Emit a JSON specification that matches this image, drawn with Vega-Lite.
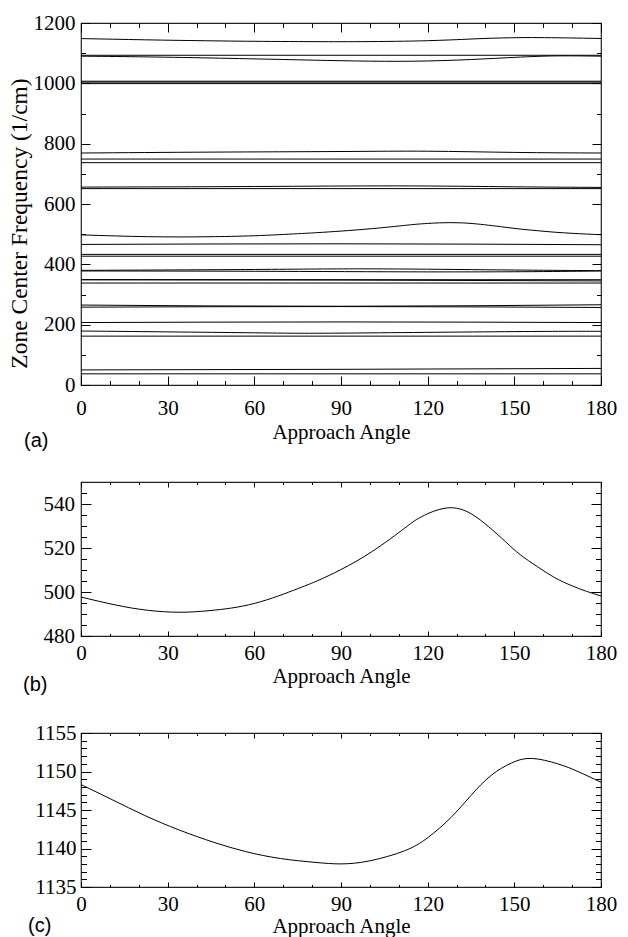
{
  "$schema": "https://vega.github.io/schema/vega-lite/v6.json",
  "padding": {"top": 11, "left": 6, "right": 8, "bottom": 0},
  "background": "white",
  "datasets": {
    "modes": [
      {"m":"m01","a":0,"f":1148.3},{"m":"m01","a":11,"f":1146.3},{"m":"m01","a":22,"f":1144.3},{"m":"m01","a":34,"f":1142.4},{"m":"m01","a":46,"f":1140.8},{"m":"m01","a":57,"f":1139.6},{"m":"m01","a":69,"f":1138.7},{"m":"m01","a":81,"f":1138.2},{"m":"m01","a":90,"f":1138.0},{"m":"m01","a":100,"f":1138.4},{"m":"m01","a":112,"f":1139.7},{"m":"m01","a":120,"f":1141.4},{"m":"m01","a":128,"f":1144.0},{"m":"m01","a":135,"f":1146.9},{"m":"m01","a":142,"f":1149.5},{"m":"m01","a":149,"f":1151.1},{"m":"m01","a":156,"f":1151.7},{"m":"m01","a":165,"f":1151.0},{"m":"m01","a":172,"f":1150.0},{"m":"m01","a":180,"f":1148.6},
      {"m":"m02","a":0,"f":1093},{"m":"m02","a":180,"f":1093},
      {"m":"m03","a":0,"f":1090},{"m":"m03","a":20,"f":1088},{"m":"m03","a":45,"f":1084},{"m":"m03","a":70,"f":1079},{"m":"m03","a":90,"f":1075},{"m":"m03","a":110,"f":1073},{"m":"m03","a":130,"f":1077},{"m":"m03","a":150,"f":1086},{"m":"m03","a":165,"f":1091},{"m":"m03","a":180,"f":1090},
      {"m":"m04","a":0,"f":1007},{"m":"m04","a":180,"f":1007},
      {"m":"m05","a":0,"f":1004},{"m":"m05","a":180,"f":1004},
      {"m":"m06","a":0,"f":999},{"m":"m06","a":180,"f":999},
      {"m":"m07","a":0,"f":769},{"m":"m07","a":45,"f":772},{"m":"m07","a":90,"f":774},{"m":"m07","a":120,"f":775},{"m":"m07","a":150,"f":771},{"m":"m07","a":180,"f":769},
      {"m":"m08","a":0,"f":749},{"m":"m08","a":180,"f":749},
      {"m":"m09","a":0,"f":737},{"m":"m09","a":180,"f":737},
      {"m":"m10","a":0,"f":656},{"m":"m10","a":60,"f":658},{"m":"m10","a":110,"f":660},{"m":"m10","a":150,"f":657},{"m":"m10","a":180,"f":655},
      {"m":"m11","a":0,"f":651},{"m":"m11","a":180,"f":651},
      {"m":"m12","a":0,"f":497.7},{"m":"m12","a":12,"f":494.1},{"m":"m12","a":23,"f":491.7},{"m":"m12","a":34,"f":490.8},{"m":"m12","a":45,"f":491.6},{"m":"m12","a":60,"f":494.8},{"m":"m12","a":75,"f":501.5},{"m":"m12","a":82,"f":505.2},{"m":"m12","a":90,"f":510.2},{"m":"m12","a":101,"f":518.6},{"m":"m12","a":112,"f":529.0},{"m":"m12","a":116,"f":532.8},{"m":"m12","a":120,"f":535.6},{"m":"m12","a":124,"f":537.5},{"m":"m12","a":128,"f":538.3},{"m":"m12","a":132,"f":537.4},{"m":"m12","a":136,"f":534.8},{"m":"m12","a":141,"f":529.8},{"m":"m12","a":147,"f":522.8},{"m":"m12","a":152,"f":517.0},{"m":"m12","a":158,"f":511.5},{"m":"m12","a":164,"f":506.5},{"m":"m12","a":170,"f":502.8},{"m":"m12","a":175,"f":500.3},{"m":"m12","a":180,"f":498.2},
      {"m":"m13","a":0,"f":466},{"m":"m13","a":90,"f":468},{"m":"m13","a":180,"f":465},
      {"m":"m14","a":0,"f":433},{"m":"m14","a":180,"f":433},
      {"m":"m15","a":0,"f":427},{"m":"m15","a":180,"f":427},
      {"m":"m16","a":0,"f":380},{"m":"m16","a":60,"f":383},{"m":"m16","a":100,"f":385},{"m":"m16","a":140,"f":382},{"m":"m16","a":180,"f":379},
      {"m":"m17","a":0,"f":378},{"m":"m17","a":60,"f":377},{"m":"m17","a":120,"f":375},{"m":"m17","a":160,"f":376},{"m":"m17","a":180,"f":378},
      {"m":"m18","a":0,"f":349},{"m":"m18","a":180,"f":349},
      {"m":"m19","a":0,"f":349},{"m":"m19","a":90,"f":348},{"m":"m19","a":180,"f":345},
      {"m":"m20","a":0,"f":338},{"m":"m20","a":180,"f":338},
      {"m":"m21","a":0,"f":265},{"m":"m21","a":90,"f":261},{"m":"m21","a":180,"f":266},
      {"m":"m22","a":0,"f":258},{"m":"m22","a":90,"f":260},{"m":"m22","a":180,"f":257},
      {"m":"m23","a":0,"f":207},{"m":"m23","a":90,"f":209},{"m":"m23","a":180,"f":207},
      {"m":"m24","a":0,"f":179},{"m":"m24","a":60,"f":173},{"m":"m24","a":90,"f":172},{"m":"m24","a":150,"f":177},{"m":"m24","a":180,"f":178},
      {"m":"m25","a":0,"f":162},{"m":"m25","a":180,"f":162},
      {"m":"m26","a":0,"f":50},{"m":"m26","a":90,"f":52},{"m":"m26","a":180,"f":55},
      {"m":"m27","a":0,"f":37},{"m":"m27","a":180,"f":37}
    ]
  },
  "bounds": "flush",
  "spacing": 97,
  "vconcat": [
    {
      "width": 520,
      "height": 362,
      "data": {"name": "modes"},
      "title": {"text": "(a)", "orient": "bottom", "anchor": "start", "frame": "group", "dx": -57, "offset": -11, "font": "Liberation Sans", "fontSize": 20, "fontWeight": "normal", "color": "#000"},
      "layer": [
        {
          "mark": {"type": "line", "interpolate": "natural", "stroke": "#000", "strokeWidth": 1},
          "encoding": {
            "x": {"field": "a", "type": "quantitative", "scale": {"domain": [0, 180], "nice": false},
                  "axis": {"orient": "bottom", "values": [0,30,60,90,120,150,180], "format": "d", "labelFont": "Liberation Serif", "tickSize": -9, "labelPadding": 21, "title": "Approach Angle", "titlePadding": 3}},
            "y": {"field": "f", "type": "quantitative", "scale": {"domain": [0, 1200], "nice": false, "zero": false},
                  "axis": {"orient": "left", "values": [0,200,400,600,800,1000,1200], "format": "d", "labelFont": "Liberation Serif", "tickSize": -9, "labelPadding": 15, "title": "Zone Center Frequency (1/cm)", "titleFontSize": 23.5, "titlePadding": 2, "titleY": 200}},
            "detail": {"field": "m"}
          }
        },
        {
          "mark": {"type": "line", "opacity": 0},
          "encoding": {
            "x": {"field": "a", "type": "quantitative", "axis": {"orient": "top", "values": [0,30,60,90,120,150,180], "tickSize": -9, "labels": false, "title": null}},
            "y": {"field": "f", "type": "quantitative", "axis": {"orient": "right", "values": [0,200,400,600,800,1000,1200], "tickSize": -9, "labels": false, "title": null}},
            "detail": {"field": "m"}
          }
        },
        {
          "mark": {"type": "line", "opacity": 0},
          "encoding": {
            "x": {"field": "a", "type": "quantitative", "axis": {"orient": "bottom", "values": [10,20,40,50,70,80,100,110,130,140,160,170], "tickSize": -4.5, "labels": false, "title": null}},
            "y": {"field": "f", "type": "quantitative", "axis": {"orient": "left", "values": [100,300,500,700,900,1100], "tickSize": -4.5, "labels": false, "title": null}},
            "detail": {"field": "m"}
          }
        },
        {
          "mark": {"type": "line", "opacity": 0},
          "encoding": {
            "x": {"field": "a", "type": "quantitative", "axis": {"orient": "top", "values": [10,20,40,50,70,80,100,110,130,140,160,170], "tickSize": -4.5, "labels": false, "title": null}},
            "y": {"field": "f", "type": "quantitative", "axis": {"orient": "right", "values": [100,300,500,700,900,1100], "tickSize": -4.5, "labels": false, "title": null}},
            "detail": {"field": "m"}
          }
        }
      ],
      "resolve": {"axis": {"x": "independent", "y": "independent"}}
    },
    {
      "width": 520,
      "height": 154,
      "data": {"name": "modes"},
      "transform": [{"filter": "datum.m == 'm12'"}],
      "title": {"text": "(b)", "orient": "bottom", "anchor": "start", "frame": "group", "dx": -58, "offset": -11, "font": "Liberation Sans", "fontSize": 20, "fontWeight": "normal", "color": "#000"},
      "layer": [
        {
          "mark": {"type": "line", "interpolate": "natural", "stroke": "#000", "strokeWidth": 1},
          "encoding": {
            "x": {"field": "a", "type": "quantitative", "scale": {"domain": [0, 180], "nice": false},
                  "axis": {"orient": "bottom", "values": [0,30,60,90,120,150,180], "format": "d", "labelFont": "Liberation Serif", "tickSize": -5, "labelPadding": 11, "title": "Approach Angle", "titlePadding": 2}},
            "y": {"field": "f", "type": "quantitative", "scale": {"domain": [480, 550], "nice": false, "zero": false},
                  "axis": {"orient": "left", "values": [480,500,520,540], "format": "d", "labelFont": "Liberation Serif", "tickSize": -10, "labelPadding": 16.5, "title": null}}
          }
        },
        {
          "mark": {"type": "line", "opacity": 0},
          "encoding": {
            "x": {"field": "a", "type": "quantitative", "axis": {"orient": "top", "values": [0,30,60,90,120,150,180], "tickSize": -5, "labels": false, "title": null}},
            "y": {"field": "f", "type": "quantitative", "axis": {"orient": "right", "values": [480,500,520,540], "tickSize": -10, "labels": false, "title": null}}
          }
        },
        {
          "mark": {"type": "line", "opacity": 0},
          "encoding": {
            "x": {"field": "a", "type": "quantitative", "axis": {"orient": "bottom", "values": [10,20,40,50,70,80,100,110,130,140,160,170], "tickSize": -2.5, "labels": false, "title": null}},
            "y": {"field": "f", "type": "quantitative", "axis": {"orient": "left", "values": [485,490,495,505,510,515,525,530,535,545], "tickSize": -5.5, "labels": false, "title": null}}
          }
        },
        {
          "mark": {"type": "line", "opacity": 0},
          "encoding": {
            "x": {"field": "a", "type": "quantitative", "axis": {"orient": "top", "values": [10,20,40,50,70,80,100,110,130,140,160,170], "tickSize": -2.5, "labels": false, "title": null}},
            "y": {"field": "f", "type": "quantitative", "axis": {"orient": "right", "values": [485,490,495,505,510,515,525,530,535,545], "tickSize": -5.5, "labels": false, "title": null}}
          }
        }
      ],
      "resolve": {"axis": {"x": "independent", "y": "independent"}}
    },
    {
      "width": 520,
      "height": 154,
      "data": {"name": "modes"},
      "transform": [{"filter": "datum.m == 'm01'"}],
      "title": {"text": "(c)", "orient": "bottom", "anchor": "start", "frame": "group", "dx": -53, "offset": -20, "font": "Liberation Sans", "fontSize": 20, "fontWeight": "normal", "color": "#000"},
      "layer": [
        {
          "mark": {"type": "line", "interpolate": "natural", "stroke": "#000", "strokeWidth": 1},
          "encoding": {
            "x": {"field": "a", "type": "quantitative", "scale": {"domain": [0, 180], "nice": false},
                  "axis": {"orient": "bottom", "values": [0,30,60,90,120,150,180], "format": "d", "labelFont": "Liberation Serif", "tickSize": -5, "labelPadding": 11, "title": "Approach Angle", "titlePadding": 1}},
            "y": {"field": "f", "type": "quantitative", "scale": {"domain": [1135, 1155], "nice": false, "zero": false},
                  "axis": {"orient": "left", "values": [1135,1140,1145,1150,1155], "format": "d", "labelFont": "Liberation Serif", "tickSize": -10, "labelPadding": 15, "title": null}}
          }
        },
        {
          "mark": {"type": "line", "opacity": 0},
          "encoding": {
            "x": {"field": "a", "type": "quantitative", "axis": {"orient": "top", "values": [0,30,60,90,120,150,180], "tickSize": -5, "labels": false, "title": null}},
            "y": {"field": "f", "type": "quantitative", "axis": {"orient": "right", "values": [1135,1140,1145,1150,1155], "tickSize": -10, "labels": false, "title": null}}
          }
        },
        {
          "mark": {"type": "line", "opacity": 0},
          "encoding": {
            "x": {"field": "a", "type": "quantitative", "axis": {"orient": "bottom", "values": [10,20,40,50,70,80,100,110,130,140,160,170], "tickSize": -2.5, "labels": false, "title": null}},
            "y": {"field": "f", "type": "quantitative", "axis": {"orient": "left", "values": [1136,1137,1138,1139,1141,1142,1143,1144,1146,1147,1148,1149,1151,1152,1153,1154], "tickSize": -5.5, "labels": false, "title": null}}
          }
        },
        {
          "mark": {"type": "line", "opacity": 0},
          "encoding": {
            "x": {"field": "a", "type": "quantitative", "axis": {"orient": "top", "values": [10,20,40,50,70,80,100,110,130,140,160,170], "tickSize": -2.5, "labels": false, "title": null}},
            "y": {"field": "f", "type": "quantitative", "axis": {"orient": "right", "values": [1136,1137,1138,1139,1141,1142,1143,1144,1146,1147,1148,1149,1151,1152,1153,1154], "tickSize": -5.5, "labels": false, "title": null}}
          }
        }
      ],
      "resolve": {"axis": {"x": "independent", "y": "independent"}}
    }
  ],
  "config": {
    "view": {"stroke": "#222", "strokeWidth": 1.2},
    "axis": {"labelFont": "Liberation Serif", "labelFontSize": 21, "labelColor": "#000", "titleFont": "Liberation Serif", "titleFontSize": 21, "titleFontWeight": "normal", "titleColor": "#000", "tickColor": "#000", "tickWidth": 1, "domain": false, "grid": false, "labelFlush": false, "labelOverlap": false}
  }
}
